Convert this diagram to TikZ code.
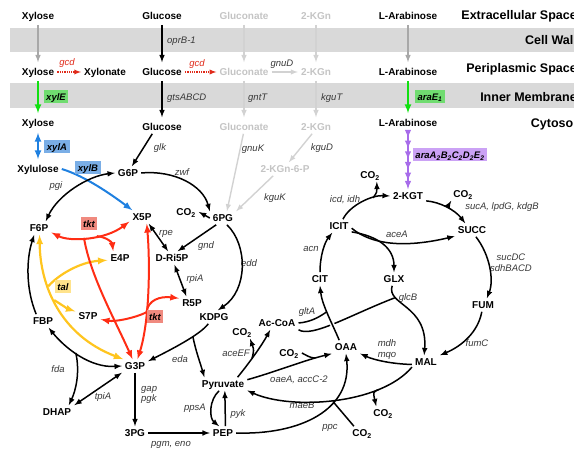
\documentclass[tikz,border=0pt]{standalone}
\usepackage{fontspec}
\setmainfont{Liberation Sans}
\usetikzlibrary{decorations.markings}

\definecolor{band}{HTML}{D9D9D9}
\definecolor{palegray}{HTML}{C4C4C4}
\definecolor{palearrow}{HTML}{D2D2D2}
\definecolor{midgray}{HTML}{A8A8A8}
\definecolor{genetext}{HTML}{383838}
\definecolor{gcdred}{HTML}{E02A1A}
\definecolor{xylgreen}{HTML}{11E011}
\definecolor{xylgreenbox}{HTML}{70DC70}
\definecolor{xylblue}{HTML}{1F80E0}
\definecolor{xylbluebox}{HTML}{7AAEE6}
\definecolor{tktred}{HTML}{FF2D14}
\definecolor{tktredbox}{HTML}{F08A7F}
\definecolor{talyellow}{HTML}{FFC51F}
\definecolor{talyellowbox}{HTML}{FFE38C}
\definecolor{arapurple}{HTML}{A76CEA}
\definecolor{arapurplebox}{HTML}{CBA2F5}

\begin{document}
\begin{tikzpicture}[x=1pt,y=-1pt,>=latex,
  met/.style={font=\bfseries\fontsize{10}{12}\selectfont,inner sep=3pt,text height=7.2pt,text depth=0pt},
  metgray/.style={met,text=palegray},
  gene/.style={font=\itshape\fontsize{9.5}{11}\selectfont,text=genetext,inner sep=0pt,text height=7pt,text depth=0pt},
  genebox/.style={font=\bfseries\itshape\fontsize{9.5}{11}\selectfont,inner xsep=2.5pt,inner ysep=3pt,text height=7pt,text depth=0pt},
  compartment/.style={font=\bfseries\fontsize{12.5}{15}\selectfont,anchor=east,inner sep=0pt,text height=9pt,text depth=0pt},
  arr/.style={->,line width=1.5pt},
  darr/.style={<->,line width=1.5pt},
  transport/.style={->,line width=1.5pt,shorten <=2pt,shorten >=3pt},
  palearr/.style={->,palearrow,line width=1.4pt},
  tktarr/.style={tktred,line width=2pt},
  talarr/.style={talyellow,line width=2.2pt},
  gcdarr/.style={->,gcdred,line width=1.3pt,densely dotted}]

\useasboundingbox (0,0) rectangle (574,449);
\fill[band] (10,28) rectangle (574,52);
\fill[band] (10,83) rectangle (574,108);

\node[compartment] (extra) at (577,15) {Extracellular Space};
\node[compartment] (wall) at (577,40) {Cell Wall};
\node[compartment] (peri) at (577,68) {Periplasmic Space};
\node[compartment] (inner) at (577,97) {Inner Membrane};
\node[compartment] (cyto) at (577,123) {Cytosol};

\node[met] (xyl0) at (38,16) {Xylose};
\node[met] (glc0) at (162,16) {Glucose};
\node[metgray] (gln0) at (244,16) {Gluconate};
\node[metgray] (kgn0) at (316,16) {2-KGn};
\node[met] (ara0) at (408,16) {L-Arabinose};
\node[met] (xyl1) at (38,72) {Xylose};
\node[met] (xyln) at (105,72) {Xylonate};
\node[met] (glc1) at (162,72) {Glucose};
\node[metgray] (gln1) at (244,72) {Gluconate};
\node[metgray] (kgn1) at (316,72) {2-KGn};
\node[met] (ara1) at (408,72) {L-Arabinose};
\node[met] (xyl2) at (38,123) {Xylose};
\node[met] (glc2) at (162,127) {Glucose};
\node[metgray] (gln2) at (244,127) {Gluconate};
\node[metgray] (kgn2) at (316,127) {2-KGn};
\node[met] (ara2) at (408,123) {L-Arabinose};
\node[met] (xylu) at (38,169) {Xylulose};
\node[met] (g6p) at (128,173) {G6P};
\node[metgray] (kgn6p) at (285,169) {2-KGn-6-P};
\node[met] (f6p) at (39,228) {F6P};
\node[met] (x5p) at (142,217) {X5P};
\node[met] (co2a) at (186,212) {CO\textsubscript{2}};
\node[met] (pg6) at (223,218) {6PG};
\node[met] (e4p) at (120,258) {E4P};
\node[met] (ri5p) at (172,258) {D-Ri5P};
\node[met] (r5p) at (192,303) {R5P};
\node[met] (fbp) at (43,321) {FBP};
\node[met] (s7p) at (88,316) {S7P};
\node[met] (kdpg) at (214,317) {KDPG};
\node[met] (g3p) at (135,366) {G3P};
\node[met] (dhap) at (57,412) {DHAP};
\node[met] (pg3) at (135,433) {3PG};
\node[met] (pep) at (223,433) {PEP};
\node[met] (pyr) at (223,384) {Pyruvate};
\node[met] (co2b) at (242,332) {CO\textsubscript{2}};
\node[met] (accoa) at (277,323) {Ac-CoA};
\node[met] (co2c) at (289,353) {CO\textsubscript{2}};
\node[met] (oaa) at (346,347) {OAA};
\node[met] (co2d) at (383,413) {CO\textsubscript{2}};
\node[met] (co2e) at (362,433) {CO\textsubscript{2}};
\node[met] (mal) at (426,362) {MAL};
\node[met] (fum) at (483,305) {FUM};
\node[met] (glx) at (394,279) {GLX};
\node[met] (cit) at (320,279) {CIT};
\node[met] (icit) at (339,226) {ICIT};
\node[met] (succ) at (472,230) {SUCC};
\node[met] (kgt) at (408,196) {2-KGT};
\node[met] (co2f) at (370,175) {CO\textsubscript{2}};
\node[met] (co2g) at (463,194) {CO\textsubscript{2}};

\node[gene,anchor=west] (oprb) at (167,40) {oprB-1};
\node[gene,text=gcdred] (gcdxyl) at (67,62) {gcd};
\node[gene,text=gcdred] (gcdglc) at (197,63) {gcd};
\node[gene] (gnud) at (282,63) {gnuD};
\node[gene,anchor=west] (gtsa) at (167,97) {gtsABCD};
\node[gene,anchor=west] (gntt) at (248,97) {gntT};
\node[gene,anchor=west] (kgut) at (321,97) {kguT};
\node[gene] (glk) at (160,147) {glk};
\node[gene] (gnuk) at (253,148) {gnuK};
\node[gene] (kgud) at (322,147) {kguD};
\node[gene] (zwf) at (182,172) {zwf};
\node[gene] (pgi) at (56,185) {pgi};
\node[gene] (kguk) at (275,197) {kguK};
\node[gene] (icd) at (345,199) {icd, idh};
\node[gene] (suca) at (502,206) {sucA, lpdG, kdgB};
\node[gene] (rpe) at (166,232) {rpe};
\node[gene] (acea) at (397,234) {aceA};
\node[gene] (gnd) at (206,245) {gnd};
\node[gene] (acn) at (311,248) {acn};
\node[gene] (sucdc) at (511,257) {sucDC};
\node[gene] (sdh) at (511,268) {sdhBACD};
\node[gene] (edd) at (249,263) {edd};
\node[gene] (rpia) at (195,278) {rpiA};
\node[gene] (glcb) at (408,297) {glcB};
\node[gene] (glta) at (307,311) {gltA};
\node[gene] (mdh) at (387,343) {mdh};
\node[gene] (mqo) at (387,354) {mqo};
\node[gene] (fumc) at (477,343) {fumC};
\node[gene] (aceef) at (236,353) {aceEF};
\node[gene] (eda) at (180,359) {eda};
\node[gene] (fda) at (58,369) {fda};
\node[gene] (oaea) at (299,379) {oaeA, accC-2};
\node[gene,anchor=west] (gap) at (141,388) {gap};
\node[gene,anchor=west] (pgk) at (141,398) {pgk};
\node[gene] (tpia) at (103,396) {tpiA};
\node[gene] (maeb) at (302,405) {maeB};
\node[gene] (ppsa) at (195,407) {ppsA};
\node[gene] (pyk) at (238,413) {pyk};
\node[gene] (ppc) at (330,426) {ppc};
\node[gene] (pgm) at (171,443) {pgm, eno};

\draw[transport,midgray] (xyl0) -- (xyl1);
\draw[transport] (glc0) -- (glc1);
\draw[transport,palearrow] (gln0) -- (gln1);
\draw[transport,palearrow] (kgn0) -- (kgn1);
\draw[transport,midgray] (ara0) -- (ara1);
\draw[gcdarr] (xyl1) -- (xyln);
\draw[gcdarr] (glc1) -- (gln1);
\draw[palearr] (gln1) -- (kgn1);
\draw[transport,xylgreen,line width=2pt] (xyl1) -- (xyl2);
\draw[transport] (glc1) -- (glc2);
\draw[transport,palearrow] (gln1) -- (gln2);
\draw[transport,palearrow] (kgn1) -- (kgn2);
\draw[transport,xylgreen,line width=2pt] (ara1) -- (ara2);
\draw[<->,xylblue,line width=2pt,shorten <=3pt,shorten >=3pt] (xyl2) -- (xylu);
\draw[->,xylblue,line width=2pt] (xylu.east) .. controls (85,176) and (112,195) .. (x5p.145);
\draw[arapurple,line width=1.8pt,->,postaction={decorate},decoration={markings,mark=between positions 0.14 and 0.86 step 0.18 with {\arrow{latex}}}] (ara2) -- (kgt);

\draw[palearr] (gln2.-95) -- (pg6.60);
\draw[palearr] (kgn2.-120) -- (kgn6p.60);
\draw[palearr] (kgn6p.-150) -- (pg6.north east);

\draw[arr] (glc2.215) -- (g6p.60);
\draw[darr] (g6p.west) .. controls (88,176) and (58,195) .. (f6p.45);
\draw[arr] (g6p.east) .. controls (175,170) and (203,186) .. (pg6.north west);
\draw[arr] (pg6.west) -- (co2a.east);
\draw[arr] (pg6.-135) -- (ri5p.50);
\draw[darr] (x5p.-45) -- (ri5p.120);
\draw[darr] (ri5p.-70) -- (r5p.130);
\draw[arr] (pg6.-60) .. controls (248,245) and (248,290) .. (kdpg.60);
\draw[arr] (kdpg.230) .. controls (200,335) and (170,350) .. (g3p.20) coordinate[pos=0.35] (edab);
\draw[arr] (edab) .. controls (196,352) and (200,362) .. (pyr.160);
\draw[arr] (fbp.135) .. controls (26,290) and (26,260) .. (f6p.-125);
\draw[darr] (fbp.-50) .. controls (65,348) and (90,368) .. (g3p.west) coordinate[pos=0.45] (fdab);
\draw[arr] (fdab) .. controls (80,372) and (76,390) .. (dhap.30);
\draw[darr] (dhap.north east) -- (g3p.south west);
\draw[arr] (g3p) -- (pg3);
\draw[arr] (pg3) -- (pep);
\draw[arr] (pep.70) -- (pyr.-75);
\draw[arr] (pyr.-120) .. controls (209,400) and (209,418) .. (pep.120);
\draw[arr] (pyr.25) .. controls (250,362) and (262,345) .. (accoa.-135) coordinate[pos=0.4] (acb);
\draw[arr] (acb) .. controls (254,350) .. (co2b.-40);

\draw[talarr,<->] (f6p.-85) .. controls (40,285) and (60,335) .. (g3p.150) coordinate[pos=0.35] (talb) coordinate[pos=0.45] (talc);
\draw[talarr,->] (talb) .. controls (58,275) and (80,262) .. (e4p.-170);
\draw[talarr,->] (talc) .. controls (62,305) and (68,309) .. (s7p.160);

\draw[tktarr,<->] (f6p.-20) .. controls (70,242) and (105,240) .. (x5p.-160) coordinate[pos=0.45] (tkta) coordinate[pos=0.6] (tktb);
\draw[tktarr,->] (tktb) .. controls (106,237) and (112,242) .. (e4p.135);
\draw[tktarr,->] (tkta) .. controls (90,275) and (115,320) .. (g3p.110);
\draw[tktarr,<->] (x5p.-55) .. controls (150,260) and (150,320) .. (g3p.70) coordinate[pos=0.65] (tktc);
\draw[tktarr,->] (tktc) .. controls (148,300) and (160,296) .. (r5p.160);
\draw[tktarr,->] (tktc) .. controls (135,318) and (115,322) .. (s7p.-15);

\draw[arr] (icit.60) .. controls (350,205) and (372,195) .. (kgt.west) coordinate[pos=0.7] (icdb);
\draw[arr] (icdb) .. controls (377,192) .. (co2f.-45);
\draw[arr] (kgt.-15) .. controls (440,202) and (455,210) .. (succ.135) coordinate[pos=0.5] (sucb);
\draw[arr] (sucb) -- (co2g.-150);
\draw[arr] (icit.-10) .. controls (372,245) and (405,248) .. (succ.-160);
\draw[arr] (icit.-25) .. controls (378,236) and (394,248) .. (glx.north);
\draw[arr] (cit.north) .. controls (320,255) and (325,242) .. (icit.-135);
\draw[arr] (succ.-60) .. controls (490,255) and (494,280) .. (fum.60);
\draw[arr] (fum.-100) .. controls (478,332) and (462,346) .. (mal.north east);
\draw[arr] (glx.-105) .. controls (386,305) and (428,305) .. (mal.105) coordinate[pos=0.25] (glcbj);
\draw[line width=1.5pt] (accoa.south east) .. controls (312,338) and (350,315) .. (glcbj);
\draw[arr,preaction={draw=white,line width=4.5pt,-,shorten <=6pt,shorten >=8pt}] (oaa.135) .. controls (333,325) and (322,305) .. (cit.south) coordinate[pos=0.55] (gltj);
\draw[line width=1.5pt] (accoa.east) .. controls (310,322) and (318,318) .. (gltj);
\draw[arr] (mal.-170) .. controls (392,364) and (374,360) .. (oaa.-25);
\draw[arr] (pyr.10) .. controls (275,372) and (305,360) .. (oaa.south west) coordinate[pos=0.8] (oaej);
\draw[line width=1.5pt] (co2c.east) .. controls (306,355) and (310,358) .. (oaej);
\draw[arr] (mal.-160) .. controls (380,405) and (290,410) .. (pyr.-15) coordinate[pos=0.25] (maebj);
\draw[arr] (maebj) .. controls (373,392) .. (co2d.135);
\draw[arr] (pep.east) .. controls (300,435) and (352,410) .. (oaa.south) coordinate[pos=0.65] (ppcj);
\draw[line width=1.5pt] (co2e.140) -- (ppcj);

\node[genebox,fill=xylgreenbox] (xyle) at (56,97) {xylE};
\node[genebox,fill=xylgreenbox] (arae) at (430,97) {araE\textsubscript{1}};
\node[genebox,fill=xylbluebox] (xyla) at (57,147) {xylA};
\node[genebox,fill=xylbluebox] (xylb) at (88,168) {xylB};
\node[genebox,fill=arapurplebox] (arabox) at (450,155) {araA\textsubscript{2}B\textsubscript{2}C\textsubscript{2}D\textsubscript{2}E\textsubscript{2}};
\node[genebox,fill=tktredbox] (tkt1) at (89,224) {tkt};
\node[genebox,fill=tktredbox] (tkt2) at (155,317) {tkt};
\node[genebox,fill=talyellowbox] (tal) at (63,287) {tal};

\end{tikzpicture}
\end{document}
